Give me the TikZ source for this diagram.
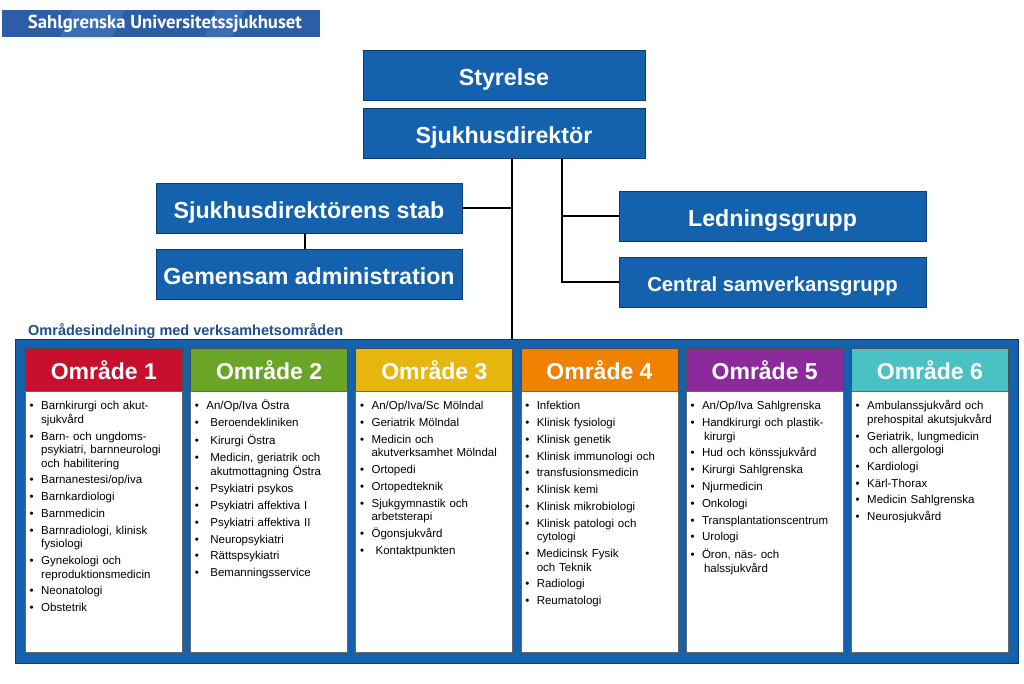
\documentclass[tikz,border=0pt]{standalone}
\usepackage{fontspec}
\setmainfont{Liberation Sans}
\newfontfamily\bannerfont{PT Sans}
\usetikzlibrary{calc}
\definecolor{sblue}{HTML}{1461AD}
\definecolor{sborder}{HTML}{0B3C6E}
\definecolor{banblue}{HTML}{2C5EA6}
\definecolor{banlight}{HTML}{3A6DB3}
\definecolor{titleblue}{HTML}{1E4F8C}
\definecolor{cA}{HTML}{C8102E}
\definecolor{cB}{HTML}{6AA528}
\definecolor{cC}{HTML}{E6B50E}
\definecolor{cD}{HTML}{EF8200}
\definecolor{cE}{HTML}{8C2A9C}
\definecolor{cF}{HTML}{4AC2C4}
\newcommand\nl{\hfil\break}
\newcommand\bitem[2][0pt]{\par\hangindent=\dimexpr11.5pt+#1\relax\hangafter=1\noindent\strut\makebox[\dimexpr11.5pt+#1\relax][l]{\textbullet}#2}
\tikzset{
  bluebox/.style={draw=sborder, line width=0.8pt, fill=sblue, text=white,
    font=\fontsize{23.2}{26}\selectfont\bfseries, minimum height=50pt, inner sep=0pt,
    text height=20pt, text depth=0pt},
  hdrbox/.style={draw=black!70, line width=0.8pt, text=white, anchor=north west,
    font=\fontsize{23}{26}\selectfont\bfseries, minimum width=157pt, minimum height=43pt, inner sep=0pt},
  colbox/.style={draw=black!60, line width=0.6pt, fill=white, anchor=north west,
    minimum width=157pt, minimum height=261pt, inner sep=0pt},
  listbox/.style={anchor=north west, inner sep=0pt, text width=152pt,
    font=\fontsize{11.5}{13.5}\selectfont},
  conn/.style={line width=2.4pt, black}
}
\begin{document}
\begin{tikzpicture}[x=1pt,y=-1pt]
\fill[white] (0,0) rectangle (1024,683);
\useasboundingbox (0,0) rectangle (1024,683);
% banner
\node[fill=banblue, minimum width=318pt, minimum height=27pt, inner sep=0pt, anchor=north west] (banner) at (2,10) {};
\fill[banlight] (72,10) -- (125,10) -- (112,37) -- (60,37) -- cycle;
\fill[banlight] (215,10) -- (245,10) -- (232,37) -- (205,37) -- cycle;
\node[text=white, inner sep=0pt] (bantext) at (165,23.5) {\resizebox{274pt}{!}{\bannerfont\bfseries Sahlgrenska Universitetssjukhuset}};
% top boxes
\node[bluebox, minimum width=282pt] (sty) at (504,75) {Styrelse};
\node[bluebox, minimum width=282pt] (dir) at (504,133) {Sjukhusdirektör};
\node[bluebox, minimum width=306pt] (stab) at (309,208) {Sjukhusdirektörens stab};
\node[bluebox, minimum width=306pt] (gem) at (309,274) {Gemensam administration};
\node[bluebox, minimum width=307pt] (led) at (772.5,216) {Ledningsgrupp};
\node[bluebox, minimum width=307pt, font=\fontsize{20.3}{24}\selectfont\bfseries, text height=18pt] (cen) at (772.5,282) {Central samverkansgrupp};
% frame
\node[text=titleblue, font=\fontsize{14.5}{16}\selectfont\bfseries, anchor=base west, inner sep=0pt] (title) at (28,335) {Områdesindelning med verksamhetsområden};
\node[draw=sborder, line width=0.8pt, fill=sblue, anchor=north west, minimum width=1003pt, minimum height=324pt, inner sep=0pt] (frame) at (15,339) {};
% connectors
\path (dir.south) ++(8,0) coordinate (tA);
\path (dir.south) ++(58,0) coordinate (tB);
\draw[conn] (tA) -- (tA |- frame.north);
\draw[conn] (stab.east) -- (stab.east -| tA);
\draw[conn] (tB) |- (cen.west);
\draw[conn] (led.west) -- (led.west -| tB);
\draw[conn] ($(stab.south)+(-4,0)$) -- ($(gem.north)+(-4,0)$);
% columns
\node[hdrbox, fill=cA] (h1) at (25,348) {Område 1};
\node[hdrbox, fill=cB] (h2) at (190.2,348) {Område 2};
\node[hdrbox, fill=cC] (h3) at (355.4,348) {Område 3};
\node[hdrbox, fill=cD] (h4) at (520.6,348) {Område 4};
\node[hdrbox, fill=cE] (h5) at (685.8,348) {Område 5};
\node[hdrbox, fill=cF] (h6) at (851,348) {Område 6};
\node[colbox] (b1) at (25,391) {};
\node[colbox] (b2) at (190.2,391) {};
\node[colbox] (b3) at (355.4,391) {};
\node[colbox] (b4) at (520.6,391) {};
\node[colbox] (b5) at (685.8,391) {};
\node[colbox] (b6) at (851,391) {};
\node[listbox] (l1) at (29.5,396) {%
\bitem{Barnkirurgi och akut-\nl sjukvård}\vspace{3.3pt}
\bitem{Barn- och ungdoms-\nl psykiatri, barnneurologi\nl och habilitering}\vspace{3.3pt}
\bitem{Barnanestesi/op/iva}\vspace{3.3pt}
\bitem{Barnkardiologi}\vspace{3.3pt}
\bitem{Barnmedicin}\vspace{3.3pt}
\bitem{Barnradiologi, klinisk\nl fysiologi}\vspace{3.3pt}
\bitem{Gynekologi och\nl reproduktionsmedicin}\vspace{3.3pt}
\bitem{Neonatologi}\vspace{3.3pt}
\bitem{Obstetrik}\par};
\node[listbox] (l2) at (194.7,396) {%
\bitem{An/Op/Iva Östra}\vspace{3.3pt}
\bitem[4pt]{Beroendekliniken}\vspace{3.3pt}
\bitem[4pt]{Kirurgi Östra}\vspace{3.3pt}
\bitem[4pt]{Medicin, geriatrik och\nl akutmottagning Östra}\vspace{3.3pt}
\bitem[4pt]{Psykiatri psykos}\vspace{3.3pt}
\bitem[4pt]{Psykiatri affektiva I}\vspace{3.3pt}
\bitem[4pt]{Psykiatri affektiva II}\vspace{3.3pt}
\bitem[4pt]{Neuropsykiatri}\vspace{3.3pt}
\bitem[4pt]{Rättspsykiatri}\vspace{3.3pt}
\bitem[4pt]{Bemanningsservice}\par};
\node[listbox] (l3) at (359.9,396) {%
\bitem{An/Op/Iva/Sc Mölndal}\vspace{3.3pt}
\bitem{Geriatrik Mölndal}\vspace{3.3pt}
\bitem{Medicin och\nl akutverksamhet Mölndal}\vspace{3.3pt}
\bitem{Ortopedi}\vspace{3.3pt}
\bitem{Ortopedteknik}\vspace{3.3pt}
\bitem{Sjukgymnastik och\nl arbetsterapi}\vspace{3.3pt}
\bitem{Ögonsjukvård}\vspace{3.3pt}
\bitem[4pt]{Kontaktpunkten}\par};
\node[listbox] (l4) at (525.1,396) {%
\bitem{Infektion}\vspace{3.3pt}
\bitem{Klinisk fysiologi}\vspace{3.3pt}
\bitem{Klinisk genetik}\vspace{3.3pt}
\bitem{Klinisk immunologi och}\vspace{3.3pt}
\bitem{transfusionsmedicin}\vspace{3.3pt}
\bitem{Klinisk kemi}\vspace{3.3pt}
\bitem{Klinisk mikrobiologi}\vspace{3.3pt}
\bitem{Klinisk patologi och\nl cytologi}\vspace{3.3pt}
\bitem{Medicinsk Fysik\nl och Teknik}\vspace{3.3pt}
\bitem{Radiologi}\vspace{3.3pt}
\bitem{Reumatologi}\par};
\node[listbox] (l5) at (690.3,396) {%
\bitem{An/Op/Iva Sahlgrenska}\vspace{3.3pt}
\bitem{Handkirurgi och plastik-\nl\hspace*{2pt}kirurgi}\vspace{3.3pt}
\bitem{Hud och könssjukvård}\vspace{3.3pt}
\bitem{Kirurgi Sahlgrenska}\vspace{3.3pt}
\bitem{Njurmedicin}\vspace{3.3pt}
\bitem{Onkologi}\vspace{3.3pt}
\bitem{Transplantationscentrum}\vspace{3.3pt}
\bitem{Urologi}\vspace{3.3pt}
\bitem{Öron, näs- och\nl\hspace*{2pt}halssjukvård}\par};
\node[listbox] (l6) at (855.5,396) {%
\bitem{Ambulanssjukvård och\nl prehospital akutsjukvård}\vspace{3.3pt}
\bitem{Geriatrik, lungmedicin\nl\hspace*{2pt}och allergologi}\vspace{3.3pt}
\bitem{Kardiologi}\vspace{3.3pt}
\bitem{Kärl-Thorax}\vspace{3.3pt}
\bitem{Medicin Sahlgrenska}\vspace{3.3pt}
\bitem{Neurosjukvård}\par};
\end{tikzpicture}
\end{document}
